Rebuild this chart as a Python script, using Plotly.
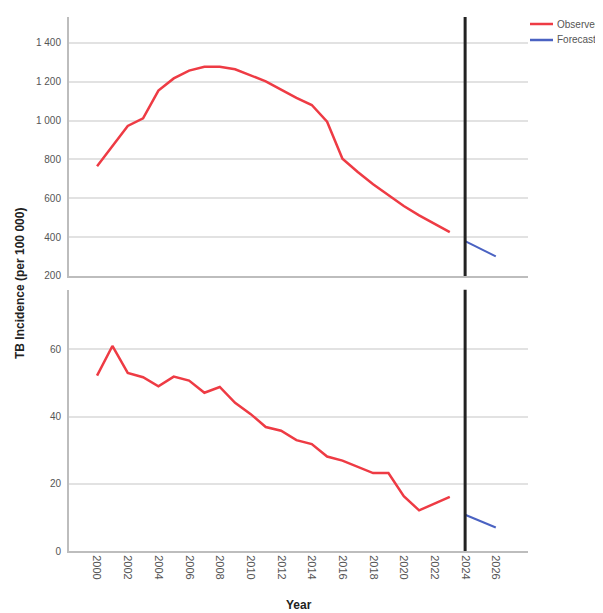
import plotly.graph_objects as go
from plotly.subplots import make_subplots

obs_years = list(range(2000, 2024))
fc_years = [2024, 2025, 2026]

# Top panel (per 100 000)
obs_top = [765, 870, 972, 1011, 1154, 1217, 1257, 1277, 1277, 1264, 1232, 1202,
           1159, 1117, 1080, 994, 804, 735, 672, 615, 560, 512, 469, 426]
fc_top = [380, 340, 301]

# Bottom panel
obs_bot = [52.2, 61.0, 53.0, 51.7, 49.0, 51.9, 50.7, 47.1, 48.8, 44.1, 40.8, 36.9,
           35.8, 33.0, 31.8, 28.1, 26.9, 25.1, 23.2, 23.2, 16.3, 12.1, 14.1, 16.1]
fc_bot = [10.8, 8.9, 7.0]

forecast_start = 2024

x_ticks = list(range(2000, 2027, 2))
top_ticks = [200, 400, 600, 800, 1000, 1200, 1400]
top_ticktext = ["200", "400", "600", "800", "1 000", "1 200", "1 400"]
bot_ticks = [0, 20, 40, 60]
bot_ticktext = ["0", "20", "40", "60"]

RED = "#ee3b44"
BLUE = "#4a62c2"
AXIS = "#bdbdbd"
GRID = "#e2e2e2"
TXT = "#555555"
FONT = "Liberation Sans, Arial, sans-serif"

# page body has an 8px margin, so the figure is made 8px smaller
W, H = 595, 605
ML, MR, MT, MB = 61, 75, 9, 62
PW = W - ML - MR
PH = H - MT - MB

fig = make_subplots(rows=2, cols=1, shared_xaxes=True)

fig.add_trace(go.Scatter(x=obs_years, y=obs_top, mode="lines", name="Observed",
                         line=dict(color=RED, width=2.5), showlegend=False), row=1, col=1)
fig.add_trace(go.Scatter(x=fc_years, y=fc_top, mode="lines", name="Forecast",
                         line=dict(color=BLUE, width=2), showlegend=False), row=1, col=1)
fig.add_trace(go.Scatter(x=obs_years, y=obs_bot, mode="lines", name="Observed",
                         line=dict(color=RED, width=2.5), showlegend=False), row=2, col=1)
fig.add_trace(go.Scatter(x=fc_years, y=fc_bot, mode="lines", name="Forecast",
                         line=dict(color=BLUE, width=2), showlegend=False), row=2, col=1)

xr = [1998.17, 2028.1]
fig.update_xaxes(range=xr, showgrid=False, zeroline=False, showline=True,
                 linecolor=AXIS, linewidth=2, ticks="")
fig.update_xaxes(showticklabels=False, row=1, col=1)
fig.update_xaxes(tickmode="array", tickvals=x_ticks, ticktext=[str(v) for v in x_ticks],
                 tickangle=90, tickfont=dict(size=11, color=TXT, family=FONT),
                 row=2, col=1)

fig.update_yaxes(showline=True, linecolor=AXIS, linewidth=2, showgrid=True,
                 gridcolor=GRID, gridwidth=1.5, zeroline=False, ticks="",
                 tickfont=dict(size=10, color=TXT, family=FONT), ticklabelstandoff=4)
fig.update_yaxes(range=[200, 1533], tickmode="array", tickvals=top_ticks,
                 ticktext=top_ticktext, row=1, col=1)
fig.update_yaxes(range=[0, 77.7], tickmode="array", tickvals=bot_ticks,
                 ticktext=bot_ticktext, row=2, col=1)

fig.update_layout(
    yaxis=dict(domain=[0.515, 1.0]),
    yaxis2=dict(domain=[0.0, 0.489]),
)

# Vertical forecast-start line in both panels
for xref, yref in [("x", "y domain"), ("x2", "y2 domain")]:
    fig.add_shape(type="line", xref=xref, yref=yref, x0=forecast_start, x1=forecast_start,
                  y0=0, y1=1, line=dict(color="#222222", width=3))

# Manual legend (positions in page pixels converted to paper coords)
def px_x(p):
    return (p - 8 - ML) / PW

def px_y(p):
    return 1 - (p - 8 - MT) / PH

legend_items = [("Observed", RED), ("Forecast", BLUE)]
for i, (name, col) in enumerate(legend_items):
    ypix = 24 + i * 16
    fig.add_shape(type="line", xref="paper", yref="paper",
                  x0=px_x(530), x1=px_x(553), y0=px_y(ypix), y1=px_y(ypix),
                  line=dict(color=col, width=2.5))
    fig.add_annotation(xref="paper", yref="paper", x=px_x(555), y=px_y(ypix),
                       xanchor="left", yanchor="middle", text=name, showarrow=False,
                       font=dict(size=10, color=TXT, family=FONT))

# Axis titles
fig.add_annotation(xref="paper", yref="paper", x=0, y=0.5, xshift=-49,
                   text="<b>TB Incidence (per 100 000)</b>", textangle=-90,
                   showarrow=False, xanchor="center", yanchor="middle",
                   font=dict(size=12, color="#222222", family=FONT))
fig.add_annotation(xref="paper", yref="paper", x=0.5, y=0, yshift=-54,
                   text="<b>Year</b>", showarrow=False, xanchor="center", yanchor="middle",
                   font=dict(size=12, color="#222222", family=FONT))

fig.update_layout(width=W, height=H, margin=dict(l=ML, r=MR, t=MT, b=MB),
                  plot_bgcolor="white", paper_bgcolor="white", showlegend=False,
                  font=dict(family=FONT))

fig.write_html("out.html")
